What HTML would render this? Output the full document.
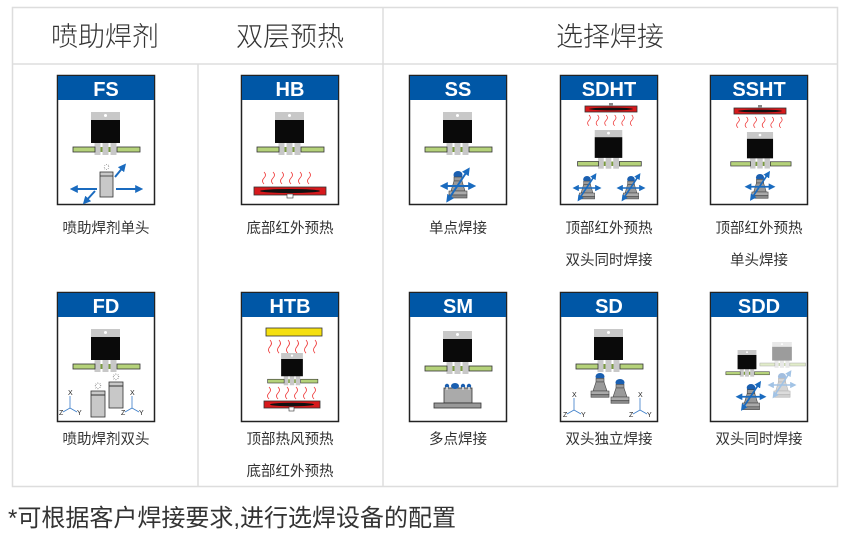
<!DOCTYPE html>
<html><head><meta charset="utf-8"><style>
body{margin:0;background:#fff;width:857px;height:534px;overflow:hidden}
svg{display:block}
.h{font-family:"Liberation Sans","Noto Sans CJK SC",sans-serif;font-size:27px;fill:#333;font-weight:300}
.l{font-family:"Liberation Sans","Noto Sans CJK SC",sans-serif;font-size:14.5px;fill:#333}
.t{font-family:"Liberation Sans","Noto Sans CJK SC",sans-serif;font-size:20px;font-weight:bold;fill:#fff}
.f{font-family:"Liberation Sans","Noto Sans CJK SC",sans-serif;font-size:24px;fill:#333}
.ax{font-family:"Liberation Sans",sans-serif;font-size:7px;fill:#222}
</style></head><body>
<svg width="857" height="534" viewBox="0 0 857 534" xmlns="http://www.w3.org/2000/svg">
<defs>
<marker id="ah" viewBox="0 0 10 10" refX="6" refY="5" markerWidth="4" markerHeight="4" orient="auto-start-reverse"><path d="M0,0L10,5L0,10z" fill="#1a6bbf"/></marker>
<marker id="ah2" viewBox="0 0 10 10" refX="6" refY="5" markerWidth="4" markerHeight="4" orient="auto-start-reverse"><path d="M0,0L10,5L0,10z" fill="#9cc0e4"/></marker>
<g id="comp">
<rect x="-11" y="28" width="6" height="15" fill="#c8c8c8"/><rect x="-3" y="28" width="6" height="15" fill="#c8c8c8"/><rect x="5" y="28" width="6" height="15" fill="#c8c8c8"/>
<rect x="-32.5" y="35" width="22" height="5" fill="#b5d27a" stroke="#333" stroke-width="0.8"/>
<rect x="11.5" y="35" width="23" height="5" fill="#b5d27a" stroke="#333" stroke-width="0.8"/>
<rect x="-5" y="35" width="2" height="5" fill="#7a9a40"/><rect x="3" y="35" width="2" height="5" fill="#7a9a40"/>
<rect x="-14.5" y="0" width="29" height="8" fill="#c8c8c8"/><circle cx="0" cy="3.5" r="1.5" fill="#fff"/>
<rect x="-14.5" y="8" width="29" height="23" fill="#0a0a0a"/>
</g>
<g id="noz">
<ellipse cx="0" cy="4" rx="4.5" ry="4" fill="#1a5fb0"/>
<rect x="-4" y="6" width="8" height="4" fill="#999" stroke="#444" stroke-width="0.6"/>
<path d="M-4,10L4,10L7,20L-7,20z" fill="#999" stroke="#444" stroke-width="0.6"/>
<rect x="-9" y="20" width="18" height="4" fill="#aaa" stroke="#444" stroke-width="0.6"/>
<rect x="-9" y="24" width="18" height="3" fill="#888" stroke="#444" stroke-width="0.6"/>
</g>
<g id="arr">
<line x1="-15" y1="15" x2="15" y2="15" stroke="#1a6bbf" stroke-width="2" marker-start="url(#ah)" marker-end="url(#ah)"/>
<line x1="-10" y1="29" x2="10" y2="-1" stroke="#1a6bbf" stroke-width="2" marker-start="url(#ah)" marker-end="url(#ah)"/>
</g>
<g id="waves" fill="none" stroke="#e33" stroke-width="0.8">
<path d="M0,0q3,3 0,6q-3,3 0,6"/><path d="M9,0q3,3 0,6q-3,3 0,6"/><path d="M18,0q3,3 0,6q-3,3 0,6"/><path d="M27,0q3,3 0,6q-3,3 0,6"/><path d="M36,0q3,3 0,6q-3,3 0,6"/><path d="M45,0q3,3 0,6q-3,3 0,6"/>
</g>
<g id="axes" stroke="#3a7cc8" stroke-width="0.8" fill="none">
<line x1="0" y1="0" x2="0" y2="12"/><line x1="0" y1="12" x2="-7" y2="16"/><line x1="0" y1="12" x2="7" y2="16"/>
</g>
<g id="card">
<rect x="0.5" y="0.5" width="97" height="129" fill="#fff" stroke="#222" stroke-width="1.5"/>
<rect x="1" y="1" width="96" height="24" fill="#0057a6"/>
</g>
</defs>
<!-- table -->
<rect x="12.5" y="7.5" width="825" height="479" fill="none" stroke="#ddd" stroke-width="1.5"/>
<line x1="12" y1="64" x2="838" y2="64" stroke="#ddd" stroke-width="1.5"/>
<line x1="383" y1="8" x2="383" y2="487" stroke="#ddd" stroke-width="1.5"/>
<line x1="198" y1="64" x2="198" y2="487" stroke="#ddd" stroke-width="1.5"/>
<text class="h" x="105" y="46" text-anchor="middle">喷助焊剂</text>
<text class="h" x="290" y="46" text-anchor="middle">双层预热</text>
<text class="h" x="610" y="46" text-anchor="middle">选择焊接</text>

<!-- FS -->
<g transform="translate(57,75)"><use href="#card"/><text class="t" x="49" y="21" text-anchor="middle">FS</text>
<use href="#comp" transform="translate(48.5,37)"/>
<rect x="43" y="97" width="13" height="25" fill="#c8c8c8" stroke="#333" stroke-width="0.8"/><line x1="43" y1="101" x2="56" y2="101" stroke="#333" stroke-width="0.8"/>
<text class="ax" x="49.5" y="94" text-anchor="middle" style="font-size:6px">҉</text>
<line x1="16" y1="114" x2="40" y2="114" stroke="#1a6bbf" stroke-width="2" marker-start="url(#ah)"/>
<line x1="59" y1="114" x2="83" y2="114" stroke="#1a6bbf" stroke-width="2" marker-end="url(#ah)"/>
<line x1="28" y1="127" x2="38" y2="116" stroke="#1a6bbf" stroke-width="2" marker-start="url(#ah)"/>
<line x1="58" y1="102" x2="67" y2="91" stroke="#1a6bbf" stroke-width="2" marker-end="url(#ah)"/>
</g>
<text class="l" x="106" y="233" text-anchor="middle">喷助焊剂单头</text>

<!-- HB -->
<g transform="translate(241,75)"><use href="#card"/><text class="t" x="49" y="21" text-anchor="middle">HB</text>
<use href="#comp" transform="translate(48.5,37)"/>
<use href="#waves" transform="translate(23,97)"/>
<rect x="13" y="112" width="72" height="8" fill="#d7191c" stroke="#333" stroke-width="0.8"/>
<ellipse cx="49" cy="116" rx="30" ry="2" fill="#111"/><rect x="46" y="119" width="6" height="4" fill="#fff" stroke="#333" stroke-width="0.6"/>
</g>
<text class="l" x="290" y="233" text-anchor="middle">底部红外预热</text>

<!-- SS -->
<g transform="translate(409,75)"><use href="#card"/><text class="t" x="49" y="21" text-anchor="middle">SS</text>
<use href="#comp" transform="translate(48.5,37)"/>
<use href="#noz" transform="translate(49,96)"/><use href="#arr" transform="translate(49,96)"/>
</g>
<text class="l" x="458" y="233" text-anchor="middle">单点焊接</text>

<!-- SDHT -->
<g transform="translate(560,75)"><use href="#card"/><text class="t" x="49" y="21" text-anchor="middle">SDHT</text>
<rect x="25" y="31" width="52" height="6" fill="#d7191c" stroke="#333" stroke-width="0.8"/><ellipse cx="51" cy="34" rx="22" ry="1.4" fill="#111"/><rect x="49" y="28" width="4" height="3" fill="#888"/>
<use href="#waves" transform="translate(29,40) scale(0.95,0.9)"/>
<use href="#comp" transform="translate(48.5,55) scale(0.95,0.9)"/>
<use href="#noz" transform="translate(27,101) scale(0.85)"/><use href="#arr" transform="translate(27,101) scale(0.8)"/>
<use href="#noz" transform="translate(71,101) scale(0.85)"/><use href="#arr" transform="translate(71,101) scale(0.8)"/>
</g>
<text class="l" x="609" y="233" text-anchor="middle">顶部红外预热</text>
<text class="l" x="609" y="265" text-anchor="middle">双头同时焊接</text>

<!-- SSHT -->
<g transform="translate(710,75)"><use href="#card"/><text class="t" x="49" y="21" text-anchor="middle">SSHT</text>
<rect x="24" y="33" width="52" height="6" fill="#d7191c" stroke="#333" stroke-width="0.8"/><ellipse cx="50" cy="36" rx="22" ry="1.4" fill="#111"/><rect x="48" y="30" width="4" height="3" fill="#888"/>
<use href="#waves" transform="translate(28,42) scale(0.95,0.9)"/>
<use href="#comp" transform="translate(50,57) scale(0.9,0.85)"/>
<use href="#noz" transform="translate(50,99) scale(0.9)"/><use href="#arr" transform="translate(50,99) scale(0.85)"/>
</g>
<text class="l" x="759" y="233" text-anchor="middle">顶部红外预热</text>
<text class="l" x="759" y="265" text-anchor="middle">单头焊接</text>

<!-- FD -->
<g transform="translate(57,292)"><use href="#card"/><text class="t" x="49" y="21" text-anchor="middle">FD</text>
<use href="#comp" transform="translate(48.5,37)"/>
<rect x="34" y="99" width="14" height="26" fill="#c8c8c8" stroke="#333" stroke-width="0.8"/><line x1="34" y1="103" x2="48" y2="103" stroke="#333"/>
<rect x="52" y="90" width="14" height="26" fill="#c8c8c8" stroke="#333" stroke-width="0.8"/><line x1="52" y1="94" x2="66" y2="94" stroke="#333"/>
<text class="ax" x="41" y="96" text-anchor="middle">҉</text><text class="ax" x="59" y="87" text-anchor="middle">҉</text>
<use href="#axes" transform="translate(13,104)"/><text class="ax" x="11" y="103">X</text><text class="ax" x="2" y="123">Z</text><text class="ax" x="20" y="123">Y</text>
<use href="#axes" transform="translate(75,104)"/><text class="ax" x="73" y="103">X</text><text class="ax" x="64" y="123">Z</text><text class="ax" x="82" y="123">Y</text>
</g>
<text class="l" x="106" y="444" text-anchor="middle">喷助焊剂双头</text>

<!-- HTB -->
<g transform="translate(241,292)"><use href="#card"/><text class="t" x="49" y="21" text-anchor="middle">HTB</text>
<rect x="25" y="36" width="56" height="8" fill="#f5e010" stroke="#333" stroke-width="0.8"/>
<use href="#waves" transform="translate(29,48) scale(1,1.1)"/>
<use href="#comp" transform="translate(51,61) scale(0.75)"/>
<use href="#waves" transform="translate(28,95)"/>
<rect x="23" y="109" width="56" height="7" fill="#d7191c" stroke="#333" stroke-width="0.8"/>
<ellipse cx="51" cy="112.5" rx="22" ry="1.8" fill="#111"/><rect x="48" y="115" width="5" height="4" fill="#fff" stroke="#333" stroke-width="0.6"/>
</g>
<text class="l" x="290" y="444" text-anchor="middle">顶部热风预热</text>
<text class="l" x="290" y="476" text-anchor="middle">底部红外预热</text>

<!-- SM -->
<g transform="translate(409,292)"><use href="#card"/><text class="t" x="49" y="21" text-anchor="middle">SM</text>
<use href="#comp" transform="translate(48.5,39)"/>
<rect x="35" y="96" width="28" height="15" fill="#aaa" stroke="#333" stroke-width="0.8"/>
<rect x="25" y="111" width="47" height="5" fill="#999" stroke="#333" stroke-width="0.8"/>
<g fill="#1a5fb0"><circle cx="38" cy="94" r="2.2"/><ellipse cx="46" cy="94" rx="4" ry="3"/><circle cx="54" cy="94" r="2.2"/><circle cx="60" cy="94" r="2.2"/></g>
<g fill="#ccc"><rect x="37" y="95" width="2" height="3"/><rect x="53" y="95" width="2" height="3"/><rect x="59" y="95" width="2" height="3"/></g>
</g>
<text class="l" x="458" y="444" text-anchor="middle">多点焊接</text>

<!-- SD -->
<g transform="translate(560,292)"><use href="#card"/><text class="t" x="49" y="21" text-anchor="middle">SD</text>
<use href="#comp" transform="translate(48.5,37)"/>
<use href="#noz" transform="translate(40,81) scale(1,0.9)"/>
<use href="#noz" transform="translate(60,87) scale(1,0.9)"/>
<use href="#axes" transform="translate(14,106)"/><text class="ax" x="12" y="105">X</text><text class="ax" x="3" y="125">Z</text><text class="ax" x="21" y="125">Y</text>
<use href="#axes" transform="translate(80,106)"/><text class="ax" x="78" y="105">X</text><text class="ax" x="69" y="125">Z</text><text class="ax" x="87" y="125">Y</text>
</g>
<text class="l" x="609" y="444" text-anchor="middle">双头独立焊接</text>

<!-- SDD -->
<g transform="translate(710,292)"><use href="#card"/><text class="t" x="49" y="21" text-anchor="middle">SDD</text>
<g opacity="0.4"><use href="#comp" transform="translate(72,50) scale(0.68,0.6)"/></g>
<use href="#comp" transform="translate(37,58) scale(0.65,0.62)"/>
<g opacity="0.4"><use href="#noz" transform="translate(72,81) scale(0.9)"/><g transform="translate(72,81) scale(0.8)"><line x1="-15" y1="15" x2="15" y2="15" stroke="#1a6bbf" stroke-width="2" marker-start="url(#ah)" marker-end="url(#ah)"/><line x1="-10" y1="29" x2="10" y2="-1" stroke="#1a6bbf" stroke-width="2" marker-start="url(#ah)" marker-end="url(#ah)"/></g></g>
<use href="#noz" transform="translate(41,92) scale(0.95)"/><use href="#arr" transform="translate(41,92) scale(0.85)"/>
</g>
<text class="l" x="759" y="444" text-anchor="middle">双头同时焊接</text>

<text class="f" x="8" y="526">*可根据客户焊接要求,进行选焊设备的配置</text>
</svg>
</body></html>
